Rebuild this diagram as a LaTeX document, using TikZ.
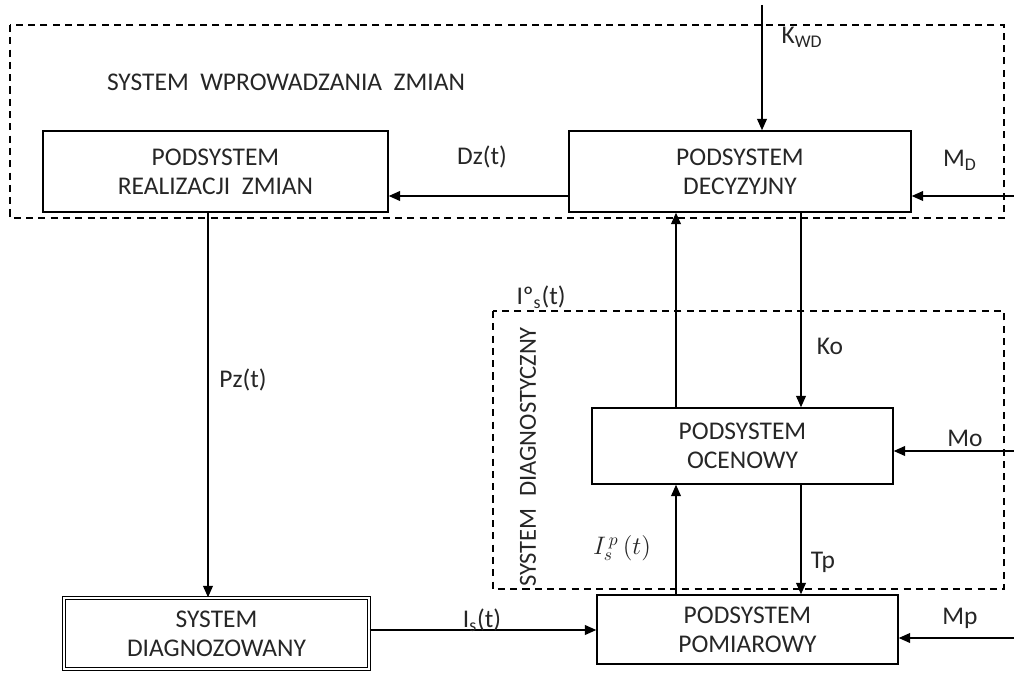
\documentclass[tikz,border=0pt]{standalone}
\usepackage{fontspec}
\setmainfont{Carlito}
\usepackage{amsmath}
\usepackage{tikz}
\usetikzlibrary{arrows.meta}
\usetikzlibrary{positioning}

\begin{document}
\begin{tikzpicture}[x=0.02cm, y=-0.02cm,
    font=\fontsize{14.5}{16.5}\selectfont,
    blok/.style={draw, line width=0.8pt, align=center, inner sep=0pt, text=black!85},
    arr/.style={line width=1pt, -{Triangle[length=6.5pt,width=5.5pt]}},
    ramka/.style={dashed, line width=0.7pt, dash pattern=on 4pt off 3pt},
    etyk/.style={text=black!85, inner sep=1pt}]
  \useasboundingbox (0,0) rectangle (1014,675);

  % ramki systemow
  \draw[ramka] (10,25) rectangle (1004,218);
  \draw[ramka] (493,311) rectangle (1004,589);
  \node[etyk] (tswz) at (286,82) {SYSTEM\ \ WPROWADZANIA\ \ ZMIAN};
  \node[etyk, rotate=90, font=\fontsize{14}{16}\selectfont] (tsd) at (528,457) {SYSTEM\ \ DIAGNOSTYCZNY};

  % podsystemy
  \node[blok, minimum width=6.9cm, minimum height=1.62cm] (real) at (215.5,171.5) {PODSYSTEM\\REALIZACJI\ \ ZMIAN};
  \node[blok, minimum width=6.84cm, minimum height=1.62cm] (dec) at (740,171.5) {PODSYSTEM\\DECYZYJNY};
  \node[blok, minimum width=6.02cm, minimum height=1.52cm] (oc) at (742.5,446) {PODSYSTEM\\OCENOWY};
  \node[blok, minimum width=6.02cm, minimum height=1.38cm] (pom) at (747.5,629.5) {PODSYSTEM\\POMIAROWY};
  \node[blok, double, double distance=1.1pt, minimum width=6.1cm, minimum height=1.42cm] (diag) at (216.5,633.5) {SYSTEM\\DIAGNOZOWANY};

  % wejscia z zewnatrz
  \coordinate (kin) at (762,5);
  \coordinate (mdin) at (1014,196);
  \coordinate (moin) at (1014,451);
  \coordinate (mpin) at (1014,638);
  \coordinate (pz) at (208,0);
  \coordinate (ko) at (801,0);
  \coordinate (io) at (676,0);
  \coordinate (is) at (0,630);

  \draw[arr] (kin) -- (kin |- dec.north);
  \draw[arr] (mdin) -- (mdin -| dec.east);
  \draw[arr] (dec.west |- mdin) -- (real.east |- mdin);
  \draw[arr] (pz |- real.south) -- (pz |- diag.north);
  \draw[arr] (ko |- dec.south) -- (ko |- oc.north);
  \draw[arr] (io |- oc.north) -- (io |- dec.south);
  \draw[arr] (moin) -- (moin -| oc.east);
  \draw[arr] (ko |- oc.south) -- (ko |- pom.north);
  \draw[arr] (io |- pom.north) -- (io |- oc.south);
  \draw[arr] (mpin) -- (mpin -| pom.east);
  \draw[arr] (is -| diag.east) -- (is -| pom.west);

  % opisy sygnalow
  \node[etyk] (lkwd) at (802,37) {K\textsubscript{WD}};
  \node[etyk] (lmd) at (960,160) {M\textsubscript{D}};
  \node[etyk] (ldz) at (482,157) {Dz(t)};
  \node[etyk] (lpz) at (243,380) {Pz(t)};
  \node[etyk] (lio) at (541,297) {Iº\textsubscript{s}(t)};
  \node[etyk] (lko) at (830,346) {Ko};
  \node[etyk] (lmo) at (965,438) {Mo};
  \node[etyk] (ltp) at (823,562) {Tp};
  \node[etyk] (lip) at (622,548) {$I_s^{\,p}\,(t)$};
  \node[etyk] (lmp) at (960,618) {Mp};
  \node[etyk] (lis) at (482,620) {I\textsubscript{s}(t)};
\end{tikzpicture}
\end{document}
